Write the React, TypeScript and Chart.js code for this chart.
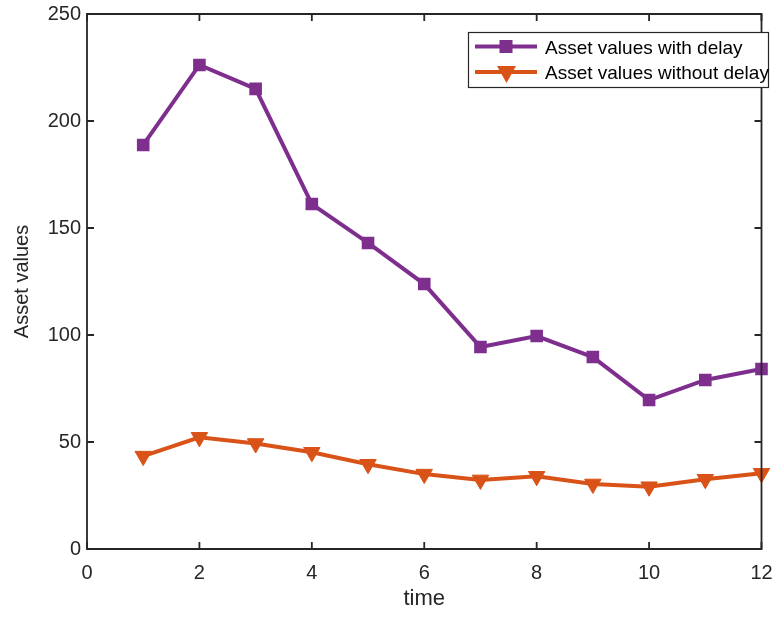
import React, { useEffect, useRef } from "react";
import { Chart, registerables } from "chart.js";

Chart.register(...registerables);

const timeSteps = [1, 2, 3, 4, 5, 6, 7, 8, 9, 10, 11, 12];
const withDelay = [188.8, 226.2, 215.0, 161.2, 143.0, 123.8, 94.4, 99.5, 89.7, 69.6, 79.0, 84.1];
const withoutDelay = [43.4, 52.2, 49.3, 45.2, 39.6, 35.0, 32.3, 34.0, 30.4, 29.1, 32.6, 35.4];
const xTicks = [0, 2, 4, 6, 8, 10, 12];
const yTicks = [0, 50, 100, 150, 200, 250];
const seriesNames = ["Asset values with delay", "Asset values without delay"];

const PURPLE = "#7E2F8E";
const ORANGE = "#D95319";
const AXIS = "#262626";
const FONT = "'Liberation Sans', Arial, Helvetica, sans-serif";

const boxPlugin = {
  id: "matlabBox",
  afterDraw(chart: any) {
    const { ctx, chartArea } = chart;
    const { left, right, top, bottom } = chartArea;
    const xs = chart.scales.x;
    const ys = chart.scales.y;
    ctx.save();
    ctx.strokeStyle = AXIS;
    ctx.lineWidth = 1.8;
    ctx.beginPath();
    ctx.rect(left, top, right - left, bottom - top);
    ctx.stroke();
    const tl = 7;
    ctx.beginPath();
    xTicks.forEach((v) => {
      const px = xs.getPixelForValue(v);
      ctx.moveTo(px, bottom);
      ctx.lineTo(px, bottom - tl);
      ctx.moveTo(px, top);
      ctx.lineTo(px, top + tl);
    });
    yTicks.forEach((v) => {
      const py = ys.getPixelForValue(v);
      ctx.moveTo(left, py);
      ctx.lineTo(left + tl, py);
      ctx.moveTo(right, py);
      ctx.lineTo(right - tl, py);
    });
    ctx.stroke();

    // legend
    const lx = 468, ly = 32, lw = 300, lh = 55;
    ctx.fillStyle = "#ffffff";
    ctx.fillRect(lx, ly, lw, lh);
    ctx.lineWidth = 1.2;
    ctx.strokeStyle = AXIS;
    ctx.strokeRect(lx + 0.5, ly + 0.5, lw, lh);
    const rows = [ly + 14.5, ly + 40];
    const colors = [PURPLE, ORANGE];
    rows.forEach((ry, i) => {
      ctx.strokeStyle = colors[i];
      ctx.lineWidth = 4;
      ctx.beginPath();
      ctx.moveTo(475, ry);
      ctx.lineTo(537, ry);
      ctx.stroke();
      ctx.fillStyle = colors[i];
      if (i === 0) {
        ctx.fillRect(499.5, ry - 6.5, 13, 13);
      } else {
        ctx.beginPath();
        ctx.moveTo(497, ry - 6);
        ctx.lineTo(516, ry - 6);
        ctx.lineTo(506.5, ry + 11);
        ctx.closePath();
        ctx.fill();
      }
      ctx.fillStyle = "#000000";
      ctx.font = `19px ${FONT}`;
      ctx.textBaseline = "middle";
      ctx.textAlign = "left";
      ctx.fillText(seriesNames[i], 545, ry + 2);
    });
    ctx.restore();
  },
};

export default function App() {
  const ref = useRef<HTMLCanvasElement | null>(null);
  useEffect(() => {
    if (!ref.current) return;
    const chart = new Chart(ref.current, {
      type: "line",
      data: {
        datasets: [
          {
            label: seriesNames[0],
            data: timeSteps.map((t, i) => ({ x: t, y: withDelay[i] })),
            borderColor: PURPLE,
            backgroundColor: PURPLE,
            borderWidth: 4,
            pointStyle: "rect",
            pointRadius: 7.5,
            pointBorderWidth: 2,
            pointBackgroundColor: PURPLE,
            pointBorderColor: PURPLE,
            clip: false,
          } as any,
          {
            label: seriesNames[1],
            data: timeSteps.map((t, i) => ({ x: t, y: withoutDelay[i] })),
            borderColor: ORANGE,
            backgroundColor: ORANGE,
            borderWidth: 4,
            pointStyle: "triangle",
            pointRotation: 180,
            pointRadius: 9.5,
            pointBorderWidth: 1,
            pointBackgroundColor: ORANGE,
            pointBorderColor: ORANGE,
            clip: false,
          } as any,
        ],
      },
      options: {
        animation: false,
        responsive: true,
        maintainAspectRatio: false,
        layout: { padding: { top: 14, right: 10, left: 0, bottom: 0 } },
        plugins: { legend: { display: false }, tooltip: { enabled: false } },
        scales: {
          x: {
            type: "linear",
            min: 0,
            max: 12,
            afterBuildTicks: (s: any) => {
              s.ticks = xTicks.map((v) => ({ value: v }));
            },
            afterFit: (s: any) => {
              s.height = 68;
              s.paddingLeft = 0;
              s.paddingRight = 0;
            },
            grid: { display: false, drawTicks: false },
            border: { display: false },
            ticks: {
              color: AXIS,
              font: { family: FONT, size: 20 },
              padding: 12,
              maxRotation: 0,
              autoSkip: false,
            },
            title: {
              display: true,
              text: "time",
              color: AXIS,
              font: { family: FONT, size: 22 },
              padding: { top: 0, bottom: 5 },
            },
          },
          y: {
            type: "linear",
            min: 0,
            max: 250,
            afterBuildTicks: (s: any) => {
              s.ticks = yTicks.map((v) => ({ value: v }));
            },
            afterFit: (s: any) => {
              s.width = 87;
              s.paddingTop = 0;
              s.paddingBottom = 0;
            },
            grid: { display: false, drawTicks: false },
            border: { display: false },
            ticks: {
              color: AXIS,
              font: { family: FONT, size: 20 },
              padding: 6,
              autoSkip: false,
            },
            title: {
              display: true,
              text: "Asset values",
              color: AXIS,
              font: { family: FONT, size: 20 },
              padding: { top: 10.5, bottom: 0 },
            },
          },
        },
      },
      plugins: [boxPlugin],
    } as any);
    return () => chart.destroy();
  }, []);
  return (
    <div style={{ position: "fixed", left: 0, top: 0, width: 772, height: 617, background: "#fff" }}>
      <canvas ref={ref} />
    </div>
  );
}
